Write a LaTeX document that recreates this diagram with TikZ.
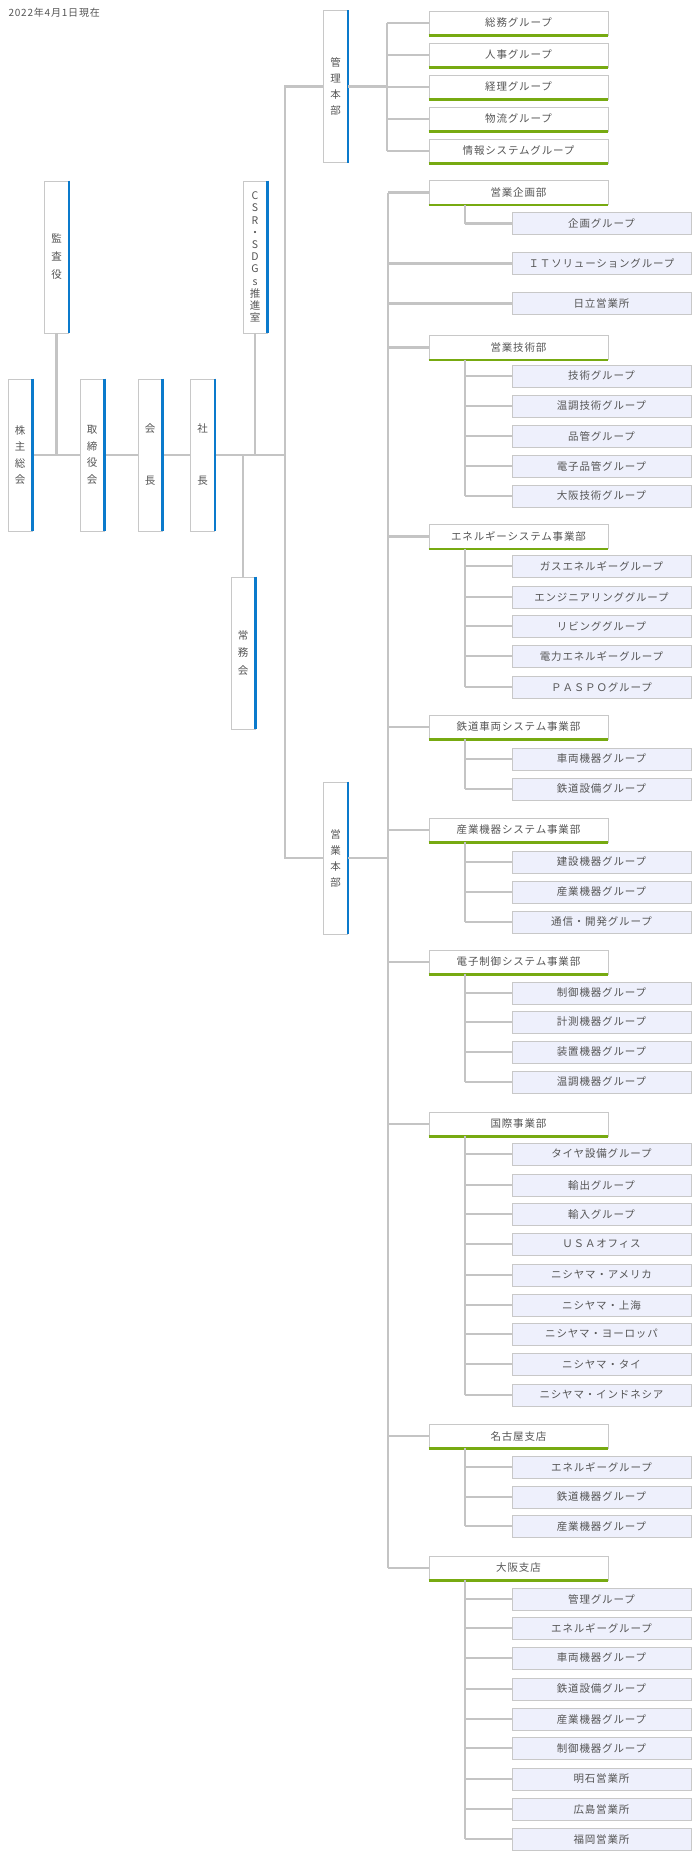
\documentclass[tikz,border=0pt]{standalone}
\usepackage{fontspec}
\setmainfont{Noto Sans CJK JP}[LetterSpace=8]
\definecolor{ln}{HTML}{C4C4C4}
\definecolor{bd}{HTML}{C8C8C8}
\definecolor{bl}{HTML}{0A7ACC}
\definecolor{gr}{HTML}{77AA11}
\definecolor{sf}{HTML}{EEF0FC}
\definecolor{tx}{HTML}{555555}
\tikzset{
  conn/.style={draw=ln,line width=2.2pt},
  vbox/.style={draw=bd,line width=0.8pt,fill=white,minimum width=24pt,minimum height=152pt,inner sep=0pt,align=center,text=tx,font=\fontsize{10.5}{16.5}\selectfont},
  mbox/.style={draw=bd,line width=0.8pt,fill=white,minimum width=179pt,minimum height=24pt,inner sep=0pt,text=tx,font=\fontsize{10.5}{12}\selectfont},
  sbox/.style={draw=bd,line width=0.8pt,fill=sf,minimum width=179pt,minimum height=22pt,inner sep=0pt,text=tx,font=\fontsize{10.5}{12}\selectfont},
}
\newcommand{\blueedge}[1]{\draw[bl,line width=2.6pt] (#1.north east) -- (#1.south east);}
\newcommand{\greenedge}[1]{\draw[gr,line width=2.6pt] (#1.south west) -- (#1.south east);}
\newcommand{\mainb}[3]{\node[mbox] (#1) at (518.5,#2) {#3}; \draw[conn] (#1.west) -- (#1.west -| T);\greenedge{#1}\coordinate (#1s) at ([xshift=-53.5pt]#1.south);}
\newcommand{\subb}[4]{\node[sbox] (#2) at (601.5,#3) {#4}; \draw[conn] (#2.west) -- (#2.west -| #1s);}
\newcommand{\subline}[2]{\draw[conn] (#1s) -- (#1s |- #2.west);}
\begin{document}
\begin{tikzpicture}[x=1pt,y=-1pt]
\useasboundingbox (0,0) rectangle (700,1860);
\node[anchor=west,text=tx,font=\fontsize{10}{12}\selectfont] (date) at (5,13) {2022年4月1日現在};
% left column
\coordinate (H) at (285,456);
\node[vbox] (kabu) at (20,455) {株\\主\\総\\会};
\node[vbox] (tori) at (92,455) {取\\締\\役\\会};
\node[vbox,font=\fontsize{10.5}{52}\selectfont] (kaicho) at (150,455) {会\\長};
\node[vbox,font=\fontsize{10.5}{52}\selectfont] (shacho) at (202.5,455) {社\\長};
\node[vbox,font=\fontsize{10.5}{18}\selectfont] (kansa) at (56.5,257) {監\\査\\役};
\node[vbox,font=\fontsize{10.5}{12.2}\selectfont] (csr) at (255,257) {C\\S\\R\\・\\S\\D\\G\\s\\推\\進\\室};
\node[vbox,font=\fontsize{10.5}{17.5}\selectfont] (jomu) at (243,653) {常\\務\\会};
\node[vbox,font=\fontsize{10.5}{16}\selectfont] (kanri) at (335.5,86.5) {管\\理\\本\\部};
\node[vbox,font=\fontsize{10.5}{16}\selectfont] (eigyo) at (335.5,858) {営\\業\\本\\部};
\draw[conn] (kabu.east) -- (tori.west);
\draw[conn] (kansa.south) -- (kansa.south |- kabu.east);
\draw[conn] (tori.east) -- (kaicho.west);
\draw[conn] (kaicho.east) -- (shacho.west);
\draw[conn] (shacho.east) -- (shacho.east -| H);
\draw[conn] (csr.south) -- (csr.south |- H);
\draw[conn] (jomu.north) -- (jomu.north |- H);
\draw[conn] (kanri.west) -| (H) |- (eigyo.west);
\foreach \n in {kabu,tori,kaicho,shacho,kansa,csr,jomu,kanri,eigyo}{\blueedge{\n}}
% kanri groups
\coordinate (K) at (387,86);
\foreach \i/\y/\t in {1/23/総務グループ,2/55/人事グループ,3/87/経理グループ,4/119/物流グループ,5/151/情報システムグループ}{
  \node[mbox] (k\i) at (518.5,\y) {\t};
  \draw[conn] (k\i.west) -- (k\i.west -| K);
  \greenedge{k\i}
}
\draw[conn] (kanri.east) -- (kanri.east -| K);
\draw[conn] (k1.west -| K) -- (k5.west -| K);
% eigyo trunk
\coordinate (T) at (388,858);
\draw[conn] (eigyo.east) -- (T);
\mainb{m1}{192.5}{営業企画部}
\subb{m1}{s11}{223.5}{企画グループ}
\subline{m1}{s11}
\node[sbox] (it) at (601.5,263.5) {ＩＴソリューショングループ};
\draw[conn] (it.west) -- (it.west -| T);
\node[sbox] (hit) at (601.5,303.5) {日立営業所};
\draw[conn] (hit.west) -- (hit.west -| T);
\mainb{m2}{347.5}{営業技術部}
\foreach \i/\y/\t in {1/376/技術グループ,2/406/温調技術グループ,3/436/品管グループ,4/466/電子品管グループ,5/496/大阪技術グループ}{\subb{m2}{s2\i}{\y}{\t}}
\subline{m2}{s25}
\mainb{m3}{536.5}{エネルギーシステム事業部}
\foreach \i/\y/\t in {1/566/ガスエネルギーグループ,2/597/エンジニアリンググループ,3/626/リビンググループ,4/656/電力エネルギーグループ,5/687/ＰＡＳＰＯグループ}{\subb{m3}{s3\i}{\y}{\t}}
\subline{m3}{s35}
\mainb{m4}{727}{鉄道車両システム事業部}
\foreach \i/\y/\t in {1/759/車両機器グループ,2/789/鉄道設備グループ}{\subb{m4}{s4\i}{\y}{\t}}
\subline{m4}{s42}
\mainb{m5}{830}{産業機器システム事業部}
\foreach \i/\y/\t in {1/862/建設機器グループ,2/892/産業機器グループ,3/922/通信・開発グループ}{\subb{m5}{s5\i}{\y}{\t}}
\subline{m5}{s53}
\mainb{m6}{962}{電子制御システム事業部}
\foreach \i/\y/\t in {1/993/制御機器グループ,2/1022/計測機器グループ,3/1052/装置機器グループ,4/1082/温調機器グループ}{\subb{m6}{s6\i}{\y}{\t}}
\subline{m6}{s64}
\mainb{m7}{1124}{国際事業部}
\foreach \i/\y/\t in {1/1154/タイヤ設備グループ,2/1185/輸出グループ,3/1214/輸入グループ,4/1244/ＵＳＡオフィス,5/1275/ニシヤマ・アメリカ,6/1305/ニシヤマ・上海,7/1334/ニシヤマ・ヨーロッパ,8/1364/ニシヤマ・タイ,9/1395/ニシヤマ・インドネシア}{\subb{m7}{s7\i}{\y}{\t}}
\subline{m7}{s79}
\mainb{m8}{1436}{名古屋支店}
\foreach \i/\y/\t in {1/1467/エネルギーグループ,2/1497/鉄道機器グループ,3/1526/産業機器グループ}{\subb{m8}{s8\i}{\y}{\t}}
\subline{m8}{s83}
\mainb{m9}{1568}{大阪支店}
\foreach \i/\y/\t in {1/1599/管理グループ,2/1628/エネルギーグループ,3/1658/車両機器グループ,4/1689/鉄道設備グループ,5/1719/産業機器グループ,6/1748/制御機器グループ,7/1779/明石営業所,8/1809/広島営業所,9/1839/福岡営業所}{\subb{m9}{s9\i}{\y}{\t}}
\subline{m9}{s99}
\draw[conn] (m1.west -| T) -- (m9.west -| T);
\end{tikzpicture}
\end{document}
